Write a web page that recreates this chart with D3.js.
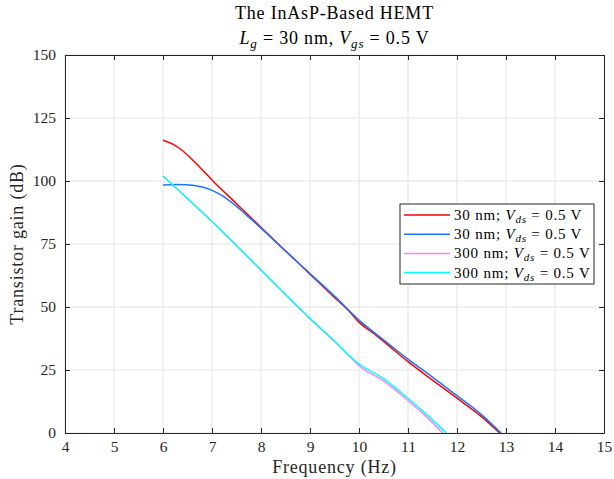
<!DOCTYPE html>
<html>
<head>
<meta charset="utf-8">
<script src="https://cdn.jsdelivr.net/npm/d3@7"></script>
<style>
  body { margin: 0; background: #fff; }
  svg { display: block; font-family: "Liberation Serif", "Times New Roman", serif; }
</style>
</head>
<body>
<div id="chart"></div>
<script>
// series data
var red30X   = [6, 6.2, 6.4, 6.6, 6.8, 7, 7.5, 8, 8.5, 9, 9.5, 9.8, 10, 10.3, 10.6, 11, 11.5, 12, 12.5, 12.87];
var red30Y   = [116.2, 114.6, 112.0, 108.4, 104.5, 100.4, 91.0, 81.6, 72.3, 63, 53.8, 48.3, 44, 39.5, 34.8, 28.3, 21, 13.8, 6.5, 0];
var blue30X  = [6, 6.3, 6.6, 6.8, 7, 7.2, 7.4, 7.6, 7.8, 8, 8.5, 9, 9.5, 10, 10.5, 11, 11.5, 12, 12.5, 12.9];
var blue30Y  = [98.4, 98.6, 98.3, 97.6, 96.3, 94.3, 91.5, 88.3, 84.8, 81.3, 72.2, 63.3, 54.3, 44.8, 37, 29.3, 22.2, 14.8, 7.3, 0];
var mag300X  = [6, 7, 8, 9, 9.5, 9.84, 10, 10.5, 11, 11.4, 11.71];
var mag300Y  = [102, 83.9, 64.6, 45.3, 36.3, 29.8, 26.7, 20.7, 12.9, 6, 0];
var cyan300X = [6, 7, 8, 9, 9.5, 9.84, 10, 10.5, 11, 11.4, 11.78];
var cyan300Y = [102, 83.9, 64.7, 45.5, 36.5, 30, 27.4, 21.6, 13.8, 7, 0];

var xTicks = [4, 5, 6, 7, 8, 9, 10, 11, 12, 13, 14, 15];
var yTicks = [0, 25, 50, 75, 100, 125, 150];

var seriesNames = ['30 nm', '30 nm', '300 nm', '300 nm'];
var seriesColors = ['#ff0000', '#1a75ff', '#ff80ff', '#00ffff'];

var series = [
    {x: red30X, y: red30Y},
    {x: blue30X, y: blue30Y},
    {x: mag300X, y: mag300Y},
    {x: cyan300X, y: cyan300Y}
];

var width = 614, height = 479;
var margin = {top: 55, right: 10, bottom: 46, left: 65};
var innerW = 539, innerH = 378;

var svg = d3.select('#chart').append('svg')
    .attr('width', width)
    .attr('height', height);

var x = d3.scaleLinear().domain([4, 15]).range([margin.left, margin.left + innerW]);
var y = d3.scaleLinear().domain([0, 150]).range([margin.top + innerH, margin.top]);

// grid
var grid = svg.append('g').attr('stroke', '#e3e3e3').attr('stroke-width', 1);
xTicks.forEach(function(t) {
    grid.append('line')
        .attr('x1', x(t)).attr('x2', x(t))
        .attr('y1', y(0)).attr('y2', y(150));
});
yTicks.forEach(function(t) {
    grid.append('line')
        .attr('x1', x(4)).attr('x2', x(15))
        .attr('y1', y(t)).attr('y2', y(t));
});

// curves
var line = d3.line()
    .x(function(d) { return x(d[0]); })
    .y(function(d) { return y(d[1]); })
    .curve(d3.curveMonotoneX);

series.forEach(function(s, i) {
    svg.append('path')
        .datum(d3.zip(s.x, s.y))
        .attr('fill', 'none')
        .attr('stroke', seriesColors[i])
        .attr('stroke-width', 1.5)
        .attr('d', line);
});

// axes, ticks pointing inward like matlab
function styleAxis(g) {
    g.selectAll('.domain').attr('stroke', '#262626');
    g.selectAll('.tick line').attr('stroke', '#262626');
    g.selectAll('text').attr('fill', '#262626')
        .style('font-family', '"Liberation Serif", serif')
        .style('font-size', '15.5px');
}

svg.append('g')
    .attr('transform', 'translate(0,' + y(0) + ')')
    .call(d3.axisBottom(x).tickValues(xTicks).tickFormat(d3.format('d'))
        .tickSizeInner(-5).tickSizeOuter(0).tickPadding(8))
    .call(styleAxis);

svg.append('g')
    .attr('transform', 'translate(0,' + y(150) + ')')
    .call(d3.axisTop(x).tickValues(xTicks).tickFormat('')
        .tickSizeInner(-5).tickSizeOuter(0))
    .call(styleAxis);

svg.append('g')
    .attr('transform', 'translate(' + x(4) + ',0)')
    .call(d3.axisLeft(y).tickValues(yTicks).tickFormat(d3.format('d'))
        .tickSizeInner(-5).tickSizeOuter(0).tickPadding(9))
    .call(styleAxis);

svg.append('g')
    .attr('transform', 'translate(' + x(15) + ',0)')
    .call(d3.axisRight(y).tickValues(yTicks).tickFormat('')
        .tickSizeInner(-5).tickSizeOuter(0))
    .call(styleAxis);

// titles
var cx = margin.left + innerW / 2;
svg.append('text')
    .attr('x', cx).attr('y', 19)
    .attr('text-anchor', 'middle')
    .style('font-size', '18px')
    .style('letter-spacing', '0.8px')
    .attr('fill', '#000')
    .text('The InAsP-Based HEMT');

var t2 = svg.append('text')
    .attr('x', cx).attr('y', 44)
    .attr('text-anchor', 'middle')
    .style('font-size', '18px')
    .style('letter-spacing', '0.8px')
    .attr('fill', '#000');
t2.append('tspan').style('font-style', 'italic').text('L');
t2.append('tspan').style('font-style', 'italic').style('font-size', '13px').attr('dy', 4).text('g');
t2.append('tspan').attr('dy', -4).text(' = 30 nm, ');
t2.append('tspan').style('font-style', 'italic').text('V');
t2.append('tspan').style('font-style', 'italic').style('font-size', '13px').attr('dy', 4).text('gs');
t2.append('tspan').attr('dy', -4).text(' = 0.5 V');

svg.append('text')
    .attr('x', cx).attr('y', 473)
    .attr('text-anchor', 'middle')
    .style('font-size', '18px')
    .style('letter-spacing', '0.8px')
    .attr('fill', '#262626')
    .text('Frequency (Hz)');

svg.append('text')
    .attr('transform', 'translate(23,' + (margin.top + innerH / 2) + ') rotate(-90)')
    .attr('text-anchor', 'middle')
    .style('font-size', '18px')
    .style('letter-spacing', '0.8px')
    .attr('fill', '#262626')
    .text('Transistor gain (dB)');

// legend
var legend = svg.append('g').attr('transform', 'translate(400,204)');
legend.append('rect')
    .attr('width', 194).attr('height', 80)
    .attr('fill', '#fff')
    .attr('stroke', '#262626')
    .attr('stroke-width', 1);

seriesNames.forEach(function(name, i) {
    var ry = 11 + i * 19.2;
    legend.append('line')
        .attr('x1', 4).attr('x2', 50)
        .attr('y1', ry).attr('y2', ry)
        .attr('stroke', seriesColors[i])
        .attr('stroke-width', 1.5);
    var t = legend.append('text')
        .attr('x', 54).attr('y', ry + 5)
        .style('font-size', '15px')
        .style('letter-spacing', '0.8px')
        .attr('fill', '#000');
    t.append('tspan').text(name + '; ');
    t.append('tspan').style('font-style', 'italic').text('V');
    t.append('tspan').style('font-style', 'italic').style('font-size', '11px').attr('dy', 3).text('ds');
    t.append('tspan').attr('dy', -3).text(' = 0.5 V');
});
</script>
</body>
</html>
